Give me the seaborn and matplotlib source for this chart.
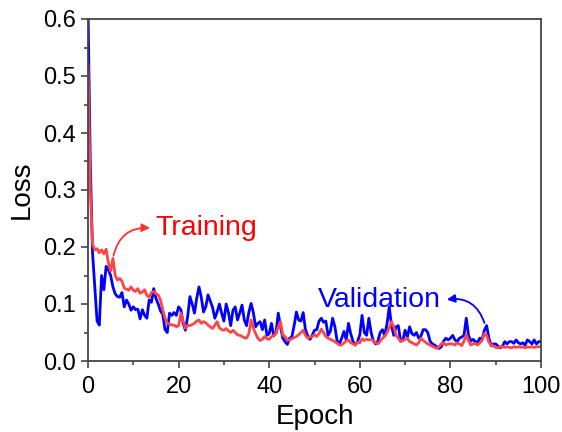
import numpy as np
import pandas as pd
import matplotlib
matplotlib.use("Agg")
import matplotlib.pyplot as plt
import seaborn as sns
from matplotlib.ticker import MultipleLocator, FormatStrFormatter

epochs = np.arange(0, 100.5, 0.5)

validation = [
    0.62, 0.35, 0.19, 0.13, 0.070, 0.063, 0.150, 0.125, 0.166, 0.160,
    0.150, 0.130, 0.118, 0.113, 0.112, 0.120, 0.095, 0.107, 0.100, 0.089,
    0.095, 0.090, 0.091, 0.074, 0.090, 0.080, 0.075, 0.107, 0.103, 0.127,
    0.110, 0.100, 0.088, 0.082, 0.055, 0.050, 0.084, 0.080, 0.085, 0.080,
    0.095, 0.090, 0.066, 0.054, 0.078, 0.113, 0.100, 0.084, 0.110, 0.130,
    0.112, 0.086, 0.095, 0.116, 0.105, 0.094, 0.075, 0.086, 0.100, 0.084,
    0.070, 0.100, 0.085, 0.062, 0.089, 0.095, 0.072, 0.084, 0.098, 0.072,
    0.062, 0.085, 0.101, 0.085, 0.060, 0.066, 0.069, 0.055, 0.072, 0.045,
    0.048, 0.066, 0.044, 0.050, 0.084, 0.060, 0.040, 0.034, 0.029, 0.040,
    0.042, 0.062, 0.086, 0.072, 0.070, 0.085, 0.055, 0.044, 0.038, 0.045,
    0.054, 0.055, 0.070, 0.075, 0.068, 0.070, 0.045, 0.052, 0.075, 0.060,
    0.035, 0.030, 0.040, 0.052, 0.037, 0.066, 0.048, 0.034, 0.028, 0.034,
    0.046, 0.080, 0.050, 0.045, 0.075, 0.050, 0.035, 0.030, 0.035, 0.050,
    0.055, 0.045, 0.065, 0.095, 0.062, 0.045, 0.060, 0.062, 0.035, 0.036,
    0.054, 0.042, 0.060, 0.048, 0.045, 0.050, 0.040, 0.044, 0.055, 0.055,
    0.050, 0.035, 0.030, 0.028, 0.025, 0.022, 0.025, 0.035, 0.040, 0.037,
    0.040, 0.045, 0.037, 0.034, 0.040, 0.042, 0.045, 0.075, 0.045, 0.035,
    0.038, 0.034, 0.033, 0.040, 0.038, 0.054, 0.062, 0.040, 0.027, 0.030,
    0.030, 0.026, 0.023, 0.026, 0.034, 0.030, 0.034, 0.034, 0.031, 0.037,
    0.032, 0.030, 0.032, 0.028, 0.037, 0.034, 0.030, 0.037, 0.030, 0.034,
    0.034,
]

training = [
    0.52, 0.30, 0.205, 0.195, 0.197, 0.190, 0.195, 0.188, 0.196, 0.172,
    0.158, 0.180, 0.150, 0.142, 0.145, 0.140, 0.128, 0.126, 0.124, 0.130,
    0.124, 0.122, 0.127, 0.119, 0.121, 0.125, 0.115, 0.112, 0.120, 0.122,
    0.118, 0.116, 0.107, 0.090, 0.075, 0.066, 0.065, 0.063, 0.063, 0.060,
    0.062, 0.084, 0.070, 0.057, 0.063, 0.062, 0.064, 0.066, 0.070, 0.072,
    0.066, 0.069, 0.067, 0.063, 0.060, 0.057, 0.063, 0.069, 0.058, 0.055,
    0.054, 0.057, 0.053, 0.050, 0.054, 0.050, 0.046, 0.045, 0.043, 0.041,
    0.040, 0.048, 0.072, 0.058, 0.048, 0.040, 0.036, 0.038, 0.043, 0.039,
    0.038, 0.043, 0.045, 0.048, 0.060, 0.069, 0.045, 0.043, 0.036, 0.037,
    0.039, 0.041, 0.043, 0.046, 0.050, 0.054, 0.045, 0.040, 0.042, 0.043,
    0.046, 0.043, 0.048, 0.056, 0.050, 0.043, 0.040, 0.038, 0.036, 0.034,
    0.031, 0.028, 0.028, 0.032, 0.035, 0.037, 0.032, 0.030, 0.028, 0.033,
    0.032, 0.039, 0.036, 0.038, 0.037, 0.038, 0.035, 0.032, 0.030, 0.035,
    0.040, 0.043, 0.050, 0.058, 0.069, 0.060, 0.045, 0.040, 0.034, 0.036,
    0.038, 0.040, 0.034, 0.032, 0.030, 0.028, 0.032, 0.040, 0.036, 0.033,
    0.030, 0.028, 0.026, 0.024, 0.022, 0.025, 0.030, 0.032, 0.028, 0.030,
    0.030, 0.030, 0.028, 0.032, 0.030, 0.027, 0.035, 0.046, 0.036, 0.028,
    0.030, 0.031, 0.028, 0.032, 0.036, 0.048, 0.045, 0.033, 0.028, 0.026,
    0.024, 0.023, 0.025, 0.025, 0.024, 0.025, 0.024, 0.023, 0.025, 0.024,
    0.025, 0.024, 0.025, 0.023, 0.025, 0.024, 0.025, 0.024, 0.025, 0.025,
    0.025,
]

series_names = ["Validation", "Training"]
series_colors = ["#0000FF", "#FF4545"]

sns.set_theme(style="ticks")
plt.rcParams["font.family"] = ["Liberation Sans", "DejaVu Sans"]

df = pd.DataFrame({
    "Epoch": np.concatenate([epochs, epochs]),
    "Loss": np.concatenate([validation, training]),
    "Series": [series_names[0]] * len(epochs) + [series_names[1]] * len(epochs),
})

fig = plt.figure(figsize=(5.62, 4.32), dpi=100)
ax = fig.add_axes([88 / 562, 71 / 432, 453 / 562, 342 / 432])

sns.lineplot(data=df, x="Epoch", y="Loss", hue="Series",
             palette=dict(zip(series_names, series_colors)),
             linewidth=2.0, legend=False, ax=ax)

ax.set_xlim(0, 100)
ax.set_ylim(0, 0.6)
ax.xaxis.set_major_locator(MultipleLocator(20))
ax.xaxis.set_minor_locator(MultipleLocator(10))
ax.yaxis.set_major_locator(MultipleLocator(0.1))
ax.yaxis.set_minor_locator(MultipleLocator(0.05))
ax.yaxis.set_major_formatter(FormatStrFormatter("%.1f"))

for s in ax.spines.values():
    s.set_visible(True)
    s.set_color("#444444")
    s.set_linewidth(1.3)

ax.tick_params(axis="both", which="major", direction="out", length=5, width=1.2,
               color="#444444", labelsize=17, labelcolor="black")
ax.tick_params(axis="x", which="major", pad=6)
ax.tick_params(axis="y", which="major", pad=4)
ax.tick_params(axis="both", which="minor", direction="out", length=3, width=1.2,
               color="#444444")
ax.tick_params(top=False, right=False, which="both")

ax.set_xlabel("Epoch", fontsize=20, labelpad=4, color="black")
ax.set_ylabel("Loss", fontsize=20, labelpad=6, color="black")

ax.text(14.8, 0.233, "Training", color="#FF0000", fontsize=20.5, va="center", ha="left")
ax.annotate("", xy=(14.3, 0.233), xytext=(5.5, 0.180),
            arrowprops=dict(arrowstyle="-|>", color="#FF3030", lw=1.3,
                            mutation_scale=12,
                            connectionstyle="arc3,rad=-0.45"))

ax.text(77.8, 0.107, "Validation", color="#0000FF", fontsize=20.5, va="center", ha="right")
ax.annotate("", xy=(78.6, 0.107), xytext=(87.7, 0.062),
            arrowprops=dict(arrowstyle="-|>", color="#0000FF", lw=1.3,
                            mutation_scale=12,
                            connectionstyle="arc3,rad=0.45"))

fig.savefig("out.png", dpi=100)
